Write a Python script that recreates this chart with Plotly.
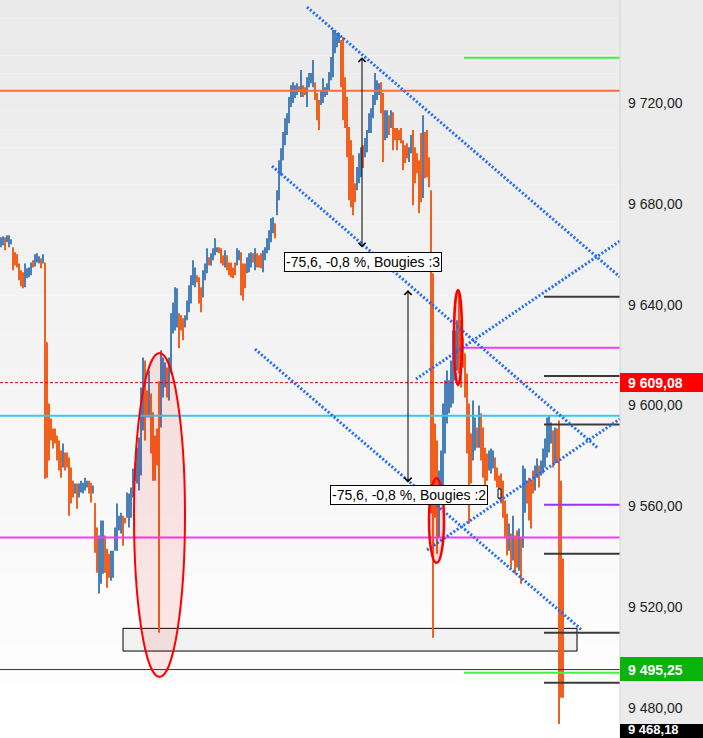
import plotly.graph_objects as go

# ---------------- data ----------------
tick_vals = [9480, 9520, 9560, 9600, 9640, 9680, 9720, 9760]
tick_text = ["9 480,00", "9 520,00", "9 560,00", "9 600,00", "9 640,00", "9 680,00", "9 720,00", "9 760,00"]

highs = [
    9666.8, 9667.2, 9666.8, 9667.6, 9667.6, 9666.0, 9662.8, 9660.8, 9660.0, 9656.4,
    9653.7, 9652.9, 9656.4, 9654.5, 9654.8, 9656.8, 9657.6, 9660.0, 9660.4, 9659.2,
    9658.4, 9660.0, 9656.8, 9625.1, 9600.8, 9594.9, 9590.9, 9590.9, 9588.1, 9586.1,
    9582.2, 9584.9, 9581.4, 9581.4, 9579.4, 9575.4, 9570.2, 9569.1, 9569.1, 9569.1,
    9570.2, 9569.4, 9571.4, 9570.2, 9570.2, 9569.4, 9568.3, 9561.3, 9551.6, 9548.4,
    9554.4, 9554.4, 9548.4, 9543.2, 9541.2, 9542.4, 9542.4, 9551.6, 9561.1, 9556.3,
    9557.5, 9556.3, 9555.5, 9565.5, 9565.1, 9567.5, 9575.0, 9577.0, 9583.3, 9587.3,
    9607.2, 9619.1, 9617.9, 9606.0, 9613.9, 9604.8, 9597.3, 9588.1, 9590.9, 9609.6,
    9621.9, 9619.1, 9617.1, 9615.1, 9619.1, 9636.6, 9640.9, 9646.9, 9646.5, 9636.6,
    9635.8, 9634.6, 9635.8, 9641.7, 9647.7, 9651.7, 9657.6, 9654.8, 9651.7, 9650.9,
    9646.9, 9653.7, 9656.4, 9662.4, 9658.8, 9660.4, 9662.4, 9666.4, 9662.8, 9662.8,
    9662.4, 9659.6, 9661.6, 9659.6, 9656.8, 9656.8, 9654.8, 9656.8, 9662.4, 9661.6,
    9660.8, 9656.4, 9656.4, 9658.8, 9660.4, 9660.8, 9660.4, 9662.4, 9660.4, 9659.6,
    9660.4, 9661.6, 9662.8, 9666.4, 9669.5, 9674.3, 9674.7, 9672.3, 9685.4, 9697.3,
    9702.1, 9708.5, 9714.0, 9716.0, 9722.4, 9727.1, 9728.3, 9727.1, 9727.9, 9726.7,
    9733.1, 9727.1, 9726.3, 9730.3, 9731.9, 9731.9, 9737.1, 9728.3, 9724.0, 9721.2,
    9725.2, 9729.9, 9726.3, 9727.9, 9732.3, 9738.3, 9749.0, 9749.0, 9747.8, 9747.8,
    9745.0, 9746.2, 9730.3, 9722.4, 9710.5, 9705.3, 9699.3, 9688.2, 9694.6, 9700.1,
    9702.5, 9703.3, 9706.1, 9709.3, 9716.0, 9718.0, 9723.2, 9731.9, 9729.1, 9727.9,
    9728.3, 9724.0, 9717.2, 9717.2, 9715.2, 9717.2, 9716.4, 9710.1, 9710.1, 9709.3,
    9710.1, 9705.3, 9703.3, 9704.1, 9702.5, 9707.3, 9709.3, 9702.5, 9700.1, 9697.3,
    9708.1, 9715.2, 9708.5, 9709.3, 9698.5, 9685.4, 9652.5, 9592.9, 9586.1, 9574.2,
    9582.2, 9600.8, 9610.0, 9613.9, 9610.0, 9617.9, 9629.8, 9629.8, 9633.8, 9645.7,
    9633.8, 9627.0, 9620.7, 9612.7, 9600.8, 9588.9, 9602.0, 9595.3, 9591.3, 9600.0,
    9596.9, 9591.3, 9583.3, 9581.0, 9582.2, 9583.0, 9582.2, 9579.4, 9575.4, 9572.2,
    9573.0, 9570.2, 9562.3, 9557.1, 9553.2, 9549.2, 9556.3, 9548.4, 9550.4, 9551.2,
    9547.6, 9576.2, 9575.0, 9570.2, 9571.4, 9570.2, 9574.2, 9576.2, 9579.0, 9576.2,
    9578.2, 9583.0, 9586.9, 9595.3, 9596.1, 9593.3, 9590.1, 9591.3, 9590.9, 9594.1,
    9570.2, 9539.3,
]

lows = [
    9662.8, 9663.6, 9661.6, 9664.8, 9662.8, 9664.0, 9653.7, 9655.6, 9654.8, 9649.7,
    9647.3, 9646.5, 9646.9, 9650.5, 9650.9, 9651.7, 9654.8, 9655.2, 9656.8, 9656.4,
    9654.5, 9656.4, 9571.0, 9571.4, 9578.2, 9586.1, 9583.0, 9584.9, 9578.2, 9574.2,
    9571.4, 9575.4, 9574.2, 9575.4, 9556.3, 9561.1, 9563.5, 9565.1, 9559.1, 9563.5,
    9565.5, 9565.1, 9566.3, 9567.5, 9565.1, 9561.5, 9565.1, 9541.6, 9533.7, 9525.4,
    9529.3, 9533.3, 9533.7, 9527.7, 9531.7, 9530.5, 9531.7, 9542.4, 9542.4, 9550.4,
    9549.2, 9544.4, 9553.2, 9555.5, 9551.6, 9555.5, 9563.5, 9570.2, 9569.1, 9566.3,
    9572.2, 9590.1, 9586.1, 9595.3, 9595.3, 9581.0, 9570.2, 9570.2, 9576.2, 9509.9,
    9591.3, 9603.2, 9607.2, 9603.2, 9602.0, 9612.7, 9628.6, 9629.8, 9631.0, 9622.7,
    9629.8, 9625.9, 9631.0, 9633.8, 9637.0, 9640.5, 9647.7, 9646.9, 9648.9, 9640.5,
    9637.0, 9642.9, 9649.7, 9652.5, 9655.6, 9655.6, 9657.6, 9659.6, 9660.8, 9660.4,
    9656.4, 9655.6, 9654.8, 9653.7, 9651.7, 9650.9, 9650.5, 9651.7, 9655.6, 9657.6,
    9643.7, 9641.7, 9646.5, 9652.5, 9652.9, 9654.8, 9656.8, 9653.7, 9654.8, 9654.8,
    9654.5, 9652.9, 9657.6, 9660.4, 9661.6, 9664.8, 9668.4, 9666.4, 9675.5, 9681.5,
    9691.4, 9697.3, 9703.3, 9707.3, 9712.0, 9718.4, 9720.0, 9722.0, 9723.2, 9724.4,
    9722.4, 9722.4, 9723.2, 9718.4, 9726.3, 9727.9, 9726.3, 9721.2, 9713.2, 9709.3,
    9719.2, 9720.0, 9722.4, 9723.2, 9725.2, 9729.1, 9730.3, 9739.8, 9742.2, 9743.8,
    9726.3, 9713.2, 9710.1, 9698.5, 9681.5, 9678.7, 9675.5, 9680.7, 9685.4, 9688.2,
    9690.6, 9694.2, 9698.5, 9700.5, 9708.1, 9708.1, 9714.0, 9719.2, 9721.2, 9723.2,
    9716.0, 9696.6, 9705.3, 9706.1, 9707.3, 9710.1, 9701.3, 9705.3, 9701.3, 9705.3,
    9704.1, 9693.4, 9696.2, 9698.1, 9696.6, 9700.1, 9679.5, 9688.2, 9692.2, 9676.3,
    9680.7, 9682.3, 9690.2, 9690.6, 9686.6, 9557.1, 9507.9, 9555.5, 9541.2, 9547.6,
    9561.1, 9562.3, 9581.0, 9592.9, 9596.9, 9599.2, 9600.8, 9610.0, 9613.9, 9612.7,
    9607.2, 9615.1, 9603.2, 9581.0, 9553.2, 9569.1, 9578.2, 9582.2, 9583.3, 9583.3,
    9578.2, 9571.4, 9567.5, 9570.2, 9574.2, 9573.0, 9575.0, 9570.2, 9567.5, 9563.1,
    9561.1, 9555.5, 9547.6, 9540.5, 9542.4, 9535.7, 9538.5, 9533.3, 9535.7, 9534.5,
    9529.3, 9543.6, 9557.5, 9561.1, 9554.4, 9551.2, 9565.1, 9566.3, 9571.4, 9567.5,
    9572.2, 9573.0, 9575.4, 9579.4, 9581.4, 9584.9, 9575.4, 9577.0, 9577.4, 9473.7,
    9484.1, 9484.1,
]

# u = rising bar (blue), d = falling bar (orange)
dirs = (
    "uuduuudddd" "dduuuuduuu" "dudddddddd" "dudddddudu" "uuuudduddu"
    "uuddduuuuu" "udduuuuuuu" "uudduddddd" "uuuduuuuud" "dduuuuuudd"
    "duuuduuuud" "dduddddduu" "ddduuududd" "duuuuuuduu" "uuuuuuuuud"
    "udduuuuddd" "uuuuuuuuuu" "dddddddduu" "uduuuuuuuu" "dduududddd"
    "dddduudddd" "dudddddddu" "uuuuuuuuud" "dddddduudu" "dddduuuddd"
    "ddddududdu" "duudddduud" "uuuuuududd" "dd"
)

# horizontal levels
full_levels = {"resistance": 9724.9, "cyan": 9596.0, "magenta": 9547.6}
last_price = 9495.25
prev_close = 9609.08
low_label = 9468.18
green_levels = [9738.0, 9494.0]
magenta_short = 9622.9
dark_levels = [9643.2, 9611.7, 9592.5, 9541.2, 9509.9, 9490.0]
purple_level = 9560.6

# trend channels: (x0, y0, x1, y1) in bar index / price
channels = [
    (153.0, 9758.1, 309.5, 9651.0),
    (135.5, 9695.0, 298.5, 9583.1),
    (127.0, 9622.4, 290.5, 9510.9),
    (207.5, 9610.5, 309.5, 9665.3),
    (213.0, 9542.7, 309.5, 9594.7),
]

# measurements
meas1 = dict(x=180.5, top=9738.2, bottom=9662.1, lx=181.0, ly=9656.9, text="-75,6, -0,8 %, Bougies :3")
meas2 = dict(x=203.5, top=9645.8, bottom=9568.9, lx=204.0, ly=9564.5, text="-75,6, -0,8 %, Bougies :2")

# ---------------- figure ----------------
UP = "#4a80b8"
DN = "#f0601e"
FONT = "Liberation Sans, Arial, sans-serif"
XMAX = 309.5
DOM = 620 / 703

n = min(len(highs), len(lows), len(dirs))
xu, yu, xd, yd = [], [], [], []
for i in range(n):
    if dirs[i] == "u":
        xu += [i, i, None]
        yu += [lows[i], highs[i], None]
    else:
        xd += [i, i, None]
        yd += [lows[i], highs[i], None]

fig = go.Figure()
fig.add_trace(go.Scatter(x=xd, y=yd, mode="lines", line=dict(color=DN, width=2),
                         hoverinfo="skip", showlegend=False))
fig.add_trace(go.Scatter(x=xu, y=yu, mode="lines", line=dict(color=UP, width=2),
                         hoverinfo="skip", showlegend=False))

shapes = []
# background vertical gradient in plot area
NB = 40
for k in range(NB):
    t = (k + 0.5) / NB
    c = int(round(255 - (255 - 234) * t))
    shapes.append(dict(type="rect", xref="paper", yref="paper", x0=0, x1=DOM,
                       y0=k / NB, y1=(k + 1) / NB, fillcolor=f"rgb({c},{c},{c})",
                       line=dict(width=0), layer="below"))

# zone rectangle
shapes.append(dict(type="rect", xref="x", yref="y", x0=61, x1=288, y0=9502.6, y1=9511.6,
                   fillcolor="#f2f2f2", line=dict(color="#000", width=1), layer="below"))

def hline(y, color, width, x0=-0.5, dash="solid"):
    return dict(type="line", xref="x", yref="y", x0=x0, x1=XMAX, y0=y, y1=y,
                line=dict(color=color, width=width, dash=dash), layer="above")

shapes.append(hline(full_levels["resistance"], "#ff6a3a", 2))
shapes.append(hline(full_levels["cyan"], "#3cc6f2", 2))
shapes.append(hline(full_levels["magenta"], "#f43cf4", 2))
shapes.append(hline(last_price, "#333333", 1))
shapes.append(hline(prev_close, "#d40000", 1, dash="3px,2px"))
for g in green_levels:
    shapes.append(hline(g, "#44ee44", 2, x0=231.5))
shapes.append(hline(magenta_short, "#f43cf4", 2, x0=231.5))
for d in dark_levels:
    shapes.append(hline(d, "#3a3a3a", 2, x0=271.5))
shapes.append(hline(purple_level, "#9b30ff", 2, x0=271.5))

# channels
for (x0, y0, x1, y1) in channels:
    shapes.append(dict(type="line", xref="x", yref="y", x0=x0, y0=y0, x1=x1, y1=y1,
                       line=dict(color="#1f6bff", width=3, dash="2px,2px"), layer="above"))

# ellipses
shapes.append(dict(type="circle", xref="x", yref="y", x0=66.5, x1=92, y0=9492.3, y1=9620.8,
                   fillcolor="rgba(255,0,0,0.09)", line=dict(color="#ff0000", width=2), layer="above"))
shapes.append(dict(type="circle", xref="x", yref="y", x0=214, x1=221.5, y0=9537.5, y1=9571.2,
                   fillcolor="rgba(255,0,0,0.12)", line=dict(color="#ff0000", width=2.5), layer="above"))
shapes.append(dict(type="circle", xref="x", yref="y", x0=226.5, x1=230.5, y0=9608.1, y1=9645.8,
                   fillcolor="rgba(255,0,0,0.12)", line=dict(color="#ff0000", width=2.5), layer="above"))

# tiny marker box
shapes.append(dict(type="rect", xref="x", yref="y", x0=248.5, x1=250, y0=9563.3, y1=9566.9,
                   fillcolor="#ffffff", line=dict(color="#000", width=1), layer="above"))

# axis panel separator and price labels
shapes.append(dict(type="line", xref="paper", yref="paper", x0=DOM, x1=DOM, y0=0, y1=1,
                   line=dict(color="#d6d6d6", width=1), layer="above"))
shapes.append(dict(type="rect", xref="paper", yref="y", x0=DOM, x1=1, y0=9605.4, y1=9612.9,
                   fillcolor="#ff0000", line=dict(width=0), layer="above"))
shapes.append(dict(type="rect", xref="paper", yref="y", x0=DOM, x1=1, y0=9490.7, y1=9500.2,
                   fillcolor="#0cb30c", line=dict(width=0), layer="above"))
shapes.append(dict(type="rect", xref="paper", yref="y", x0=DOM, x1=1, y0=9468.1, y1=9473.7,
                   fillcolor="#000000", line=dict(width=0), layer="above"))

annotations = []
for lbl, yv in [("9 609,08", prev_close), ("9 495,25", last_price)]:
    annotations.append(dict(xref="paper", yref="y", x=627 / 703, y=yv, xanchor="left", yanchor="middle",
                            text=f"<b>{lbl}</b>", showarrow=False, borderpad=0,
                            font=dict(family=FONT, size=14, color="#ffffff")))
# low label: keep its text inside the window
annotations.append(dict(xref="paper", yref="paper", x=627 / 703, y=0.0, xanchor="left", yanchor="bottom",
                        text=f"<b>9 468,18</b>", showarrow=False, borderpad=0,
                        font=dict(family=FONT, size=13, color="#ffffff")))

for m in (meas1, meas2):
    annotations.append(dict(xref="x", yref="y", x=m["x"], y=m["top"], ax=m["x"], ay=m["bottom"],
                            axref="x", ayref="y", text="", showarrow=True, arrowside="end+start",
                            arrowhead=4, startarrowhead=4, arrowsize=1.4, startarrowsize=1.4,
                            arrowwidth=1, arrowcolor="#000", standoff=0, startstandoff=0))
    annotations.append(dict(xref="x", yref="y", x=m["lx"], y=m["ly"], text=m["text"], showarrow=False,
                            bgcolor="#ffffff", bordercolor="#000", borderwidth=1, borderpad=1,
                            font=dict(family=FONT, size=14, color="#000")))

fig.update_layout(
    width=703, height=738,
    margin=dict(l=0, r=0, t=0, b=0),
    paper_bgcolor="#ebebeb",
    plot_bgcolor="#ffffff",
    showlegend=False,
    shapes=shapes,
    annotations=annotations,
    font=dict(family=FONT),
    xaxis=dict(range=[-0.5, XMAX], domain=[0, DOM], visible=False, fixedrange=True),
    yaxis=dict(range=[9468.1, 9760.9], side="right", anchor="x", tickvals=tick_vals, ticktext=tick_text,
               showgrid=False, zeroline=False, ticks="", showline=False, ticklabelstandoff=7,
               fixedrange=True, tickfont=dict(family=FONT, size=14, color="#222222")),
)

fig.write_html("out.html", config={"displayModeBar": False},
               post_script="document.body.style.margin='0px';")
